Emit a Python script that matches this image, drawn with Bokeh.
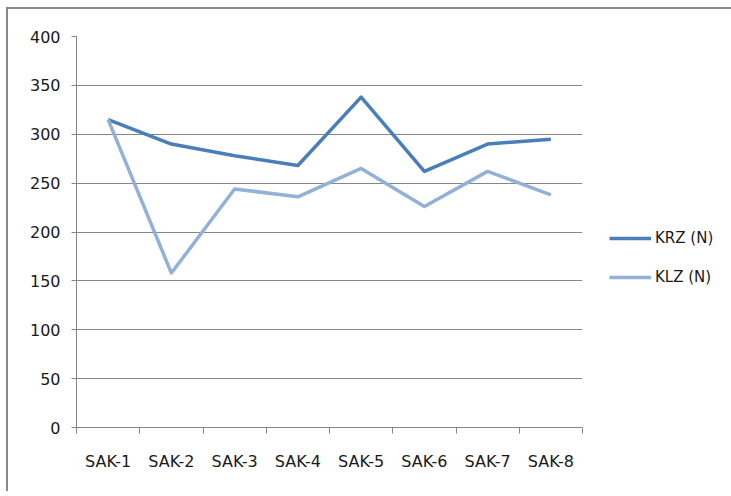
from bokeh.plotting import figure
from bokeh.models import FixedTicker, Legend, LegendItem, Range1d
from bokeh.embed import file_html
from bokeh.resources import INLINE

categories = ["SAK-1", "SAK-2", "SAK-3", "SAK-4", "SAK-5", "SAK-6", "SAK-7", "SAK-8"]
krz = [315, 290, 278, 268, 338, 262, 290, 295]
klz = [315, 158, 244, 236, 265, 226, 262, 238]
y_ticks = [0, 50, 100, 150, 200, 250, 300, 350, 400]

xs = list(range(1, len(categories) + 1))
FONT = "DejaVu Sans"
GRAY = "#868686"

p = figure(output_backend="svg", toolbar_location=None,
           frame_width=506, frame_height=391,
           min_border_left=68, min_border_right=139,
           min_border_top=27, min_border_bottom=64,
           x_range=Range1d(0.5, len(categories) + 0.5),
           y_range=Range1d(0, 400))
p.styles = {"border-top": "2px solid #8a8a8a", "border-left": "2px solid #8a8a8a",
            "margin-left": "6px", "margin-top": "7px"}
p.outline_line_color = None
p.background_fill_color = "white"
p.border_fill_color = "white"

# x axis
p.xaxis.ticker = FixedTicker(ticks=xs, minor_ticks=[x + 0.5 for x in range(0, len(categories) + 1)])
p.xaxis.major_label_overrides = {x: c for x, c in zip(xs, categories)}
p.xaxis.major_tick_line_color = None
p.xaxis.minor_tick_line_color = GRAY
p.xaxis.minor_tick_out = 6
p.xaxis.minor_tick_in = 0
p.xaxis.axis_line_color = GRAY
p.xaxis.major_label_standoff = 18
p.xaxis.major_label_text_font = FONT
p.xaxis.major_label_text_font_size = "16px"
p.xaxis.major_label_text_color = "#1a1a1a"
p.xgrid.visible = False

# y axis
p.yaxis.ticker = FixedTicker(ticks=y_ticks)
p.yaxis.minor_tick_line_color = None
p.yaxis.major_tick_line_color = GRAY
p.yaxis.major_tick_out = 5
p.yaxis.major_tick_in = 0
p.yaxis.axis_line_color = GRAY
p.yaxis.major_label_standoff = 11
p.yaxis.major_label_text_font = FONT
p.yaxis.major_label_text_font_size = "16px"
p.yaxis.major_label_text_color = "#1a1a1a"
p.ygrid.grid_line_color = GRAY
p.ygrid.grid_line_width = 1

r1 = p.line(xs, krz, line_color="#4A7EBB", line_width=3.5, line_join="round")
r2 = p.line(xs, klz, line_color="#93B1D8", line_width=3.5, line_join="round")

legend = Legend(items=[LegendItem(label="KRZ (N)", renderers=[r1]),
                       LegendItem(label="KLZ (N)", renderers=[r2])],
                location=(27, 140))
legend.border_line_color = None
legend.background_fill_alpha = 0
legend.label_text_font = FONT
legend.label_text_font_size = "15px"
legend.label_text_color = "#1a1a1a"
legend.glyph_width = 42
legend.glyph_height = 20
legend.label_standoff = 4
legend.spacing = 19
legend.padding = 4
legend.margin = 0
p.add_layout(legend, "right")

open("out.html", "w").write(file_html(p, INLINE))
